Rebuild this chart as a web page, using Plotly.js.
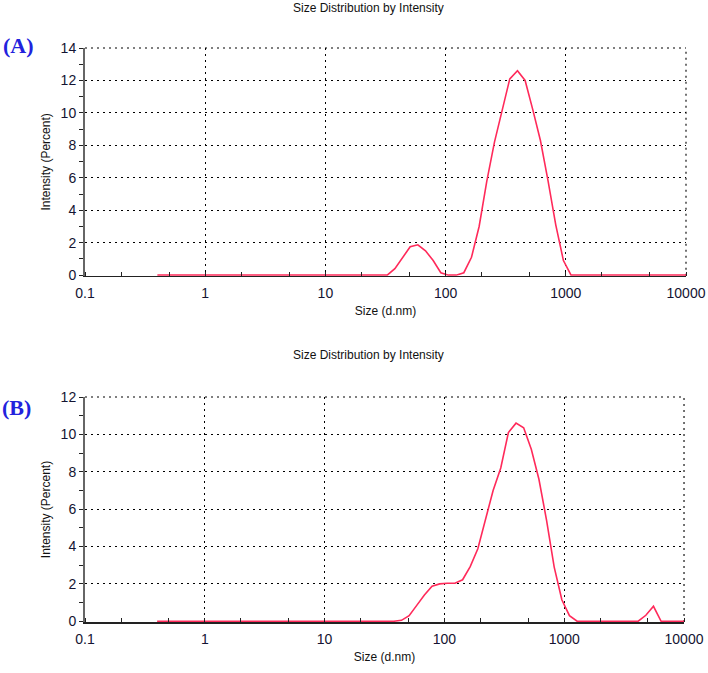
<!DOCTYPE html>
<html>
<head>
<meta charset="utf-8">
<script src="https://cdn.plot.ly/plotly-3.0.1.min.js"></script>
<style>
html,body{margin:0;padding:0;background:#fff;}
#chart{width:708px;height:673px;}
</style>
</head>
<body>
<div id="chart"></div>
<script>
// Size bins (d.nm)
const sizes = [0.4, 0.4632, 0.5365, 0.6213, 0.7195, 0.8332, 0.9649, 1.117, 1.294, 1.499,
  1.736, 2.01, 2.328, 2.696, 3.122, 3.615, 4.187, 4.849, 5.615, 6.503,
  7.531, 8.721, 10.1, 11.7, 13.54, 15.69, 18.17, 21.04, 24.36, 28.21,
  32.67, 37.84, 43.82, 50.75, 58.77, 68.06, 78.82, 91.28, 105.7, 122.4,
  141.8, 164.2, 190.1, 220.2, 255.0, 295.3, 342.0, 396.1, 458.7, 531.2,
  615.1, 712.4, 825.0, 955.4, 1106, 1281, 1484, 1718, 1990, 2305,
  2669, 3091, 3580, 4145, 4801, 5560, 6439, 7456, 8635, 10000];

// Panel (A) intensity (%)
const intensityA = [0, 0, 0, 0, 0, 0, 0, 0, 0, 0,
  0, 0, 0, 0, 0, 0, 0, 0, 0, 0,
  0, 0, 0, 0, 0, 0, 0, 0, 0, 0,
  0, 0.4, 1.1, 1.75, 1.87, 1.5, 0.9, 0.15, 0, 0,
  0.15, 1.1, 3.0, 5.8, 8.2, 10.2, 12.1, 12.6, 12.0, 10.2,
  8.3, 5.8, 3.1, 0.9, 0, 0, 0, 0, 0, 0,
  0, 0, 0, 0, 0, 0, 0, 0, 0, 0];

// Panel (B) intensity (%)
const intensityB = [0, 0, 0, 0, 0, 0, 0, 0, 0, 0,
  0, 0, 0, 0, 0, 0, 0, 0, 0, 0,
  0, 0, 0, 0, 0, 0, 0, 0, 0, 0,
  0, 0, 0.05, 0.3, 0.85, 1.4, 1.87, 2.0, 2.03, 2.03,
  2.22, 2.92, 3.88, 5.4, 7.0, 8.2, 10.1, 10.6, 10.35, 9.2,
  7.6, 5.4, 2.9, 1.15, 0.3, 0, 0, 0, 0, 0,
  0, 0, 0, 0, 0.32, 0.8, 0, 0, 0, 0];

const xTickVals = [0.1, 1, 10, 100, 1000, 10000];
const xTickText = ['0.1', '1', '10', '100', '1000', '10000'];
const yTickValsA = [0, 2, 4, 6, 8, 10, 12, 14];
const yTickValsB = [0, 2, 4, 6, 8, 10, 12];
const chartTitle = 'Size Distribution by Intensity';
const xTitle = 'Size (d.nm)';
const yTitle = 'Intensity (Percent)';

const lineColor = '#ff2a5a';
const tickFont = {family: 'Liberation Sans, Arial, sans-serif', size: 14, color: '#141432'};
const titleFont = {family: 'Liberation Sans, Arial, sans-serif', size: 12, color: '#111'};
const gridDash = '2px,4px';

function xAxis(domain, anchor) {
  return {
    type: 'log', domain: domain, anchor: anchor,
    range: [-1, 4],
    tickvals: xTickVals, ticktext: xTickText,
    ticks: '', showline: true, linecolor: '#222', linewidth: 1.5,
    showgrid: true, gridcolor: '#000', gridwidth: 1.1, griddash: gridDash,
    minor: {ticks: 'inside', ticklen: 4, tickcolor: '#222', tickwidth: 1, showgrid: false},
    tickfont: tickFont, ticklabelstandoff: 4,
    title: {text: xTitle, font: titleFont, standoff: 6},
    zeroline: false, fixedrange: true
  };
}
function yAxis(domain, anchor, maxv, vals) {
  return {
    domain: domain, anchor: anchor,
    range: [-0.04, maxv],
    tickvals: vals,
    ticks: 'outside', ticklen: 4, tickcolor: '#222', tickwidth: 1,
    minor: {dtick: 1, tick0: 1, ticks: 'outside', ticklen: 4, tickcolor: '#222', tickwidth: 1, showgrid: false},
    showline: true, linecolor: '#666', linewidth: 2,
    showgrid: true, gridcolor: '#000', gridwidth: 1.1, griddash: gridDash,
    tickfont: tickFont, ticklabelstandoff: 0,
    title: {text: yTitle, font: titleFont, standoff: 7},
    zeroline: false, fixedrange: true
  };
}

const traces = [
  {x: sizes, y: intensityA, type: 'scatter', mode: 'lines', xaxis: 'x', yaxis: 'y',
   line: {color: lineColor, width: 1.6}, hoverinfo: 'x+y', showlegend: false},
  {x: sizes, y: intensityB, type: 'scatter', mode: 'lines', xaxis: 'x2', yaxis: 'y2',
   line: {color: lineColor, width: 1.6}, hoverinfo: 'x+y', showlegend: false}
];

const H = 673, T = 47.7, B = 51.3;
const PH = H - T - B;
const topDomainLow = (H - B - 275.5) / PH;
const botDomainHigh = (H - B - 396.7) / PH;

// dotted frame edges (top and right) that Plotly's grid omits at range ends
function frameEdges(xr, yr) {
  const ln = {color: '#000', width: 1.1, dash: gridDash};
  return [
    {type: 'line', xref: xr + ' domain', yref: yr + ' domain', x0: 0, x1: 1, y0: 1, y1: 1, line: ln, layer: 'below'},
    {type: 'line', xref: xr + ' domain', yref: yr + ' domain', x0: 1, x1: 1, y0: 0, y1: 1, line: ln, layer: 'below'}
  ];
}

const layout = {
  width: 708, height: 673,
  margin: {l: 85, r: 22, t: T, b: B},
  paper_bgcolor: '#fff', plot_bgcolor: '#fff',
  xaxis: xAxis([0, 1], 'y'),
  yaxis: yAxis([topDomainLow, 1], 'x', 14, yTickValsA),
  xaxis2: xAxis([0, 0.9967], 'y2'),
  yaxis2: yAxis([0, botDomainHigh], 'x2', 12, yTickValsB),
  shapes: frameEdges('x', 'y').concat(frameEdges('x2', 'y2')),
  annotations: [
    {text: chartTitle, xref: 'paper', yref: 'paper', x: 0.472, y: 1 + (T - 8) / PH,
     xanchor: 'center', yanchor: 'middle', showarrow: false, font: titleFont},
    {text: chartTitle, xref: 'paper', yref: 'paper', x: 0.472, y: (H - B - 355) / PH,
     xanchor: 'center', yanchor: 'middle', showarrow: false, font: titleFont},
    {text: '<b>(A)</b>', xref: 'paper', yref: 'paper', x: -85 / 601 + 1 / 601, y: (H - B - 45) / PH,
     xanchor: 'left', yanchor: 'middle', showarrow: false,
     font: {family: 'Liberation Serif, Times New Roman, serif', size: 22, color: '#2222dd'}},
    {text: '<b>(B)</b>', xref: 'paper', yref: 'paper', x: -85 / 601 + 0 / 601, y: (H - B - 407) / PH,
     xanchor: 'left', yanchor: 'middle', showarrow: false,
     font: {family: 'Liberation Serif, Times New Roman, serif', size: 22, color: '#2222dd'}}
  ]
};

Plotly.newPlot('chart', traces, layout, {displayModeBar: false, staticPlot: true});
</script>
</body>
</html>
